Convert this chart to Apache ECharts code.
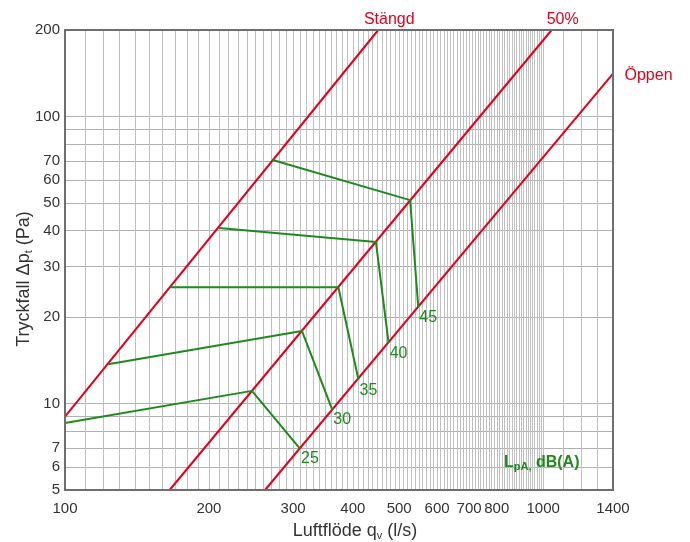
<!DOCTYPE html>
<html><head><meta charset="utf-8">
<script src="https://cdn.jsdelivr.net/npm/echarts@6/dist/echarts.min.js"></script>
<style>html,body{margin:0;padding:0;background:#fff}#c{width:690px;height:542px}</style>
</head><body><div id="c"></div>
<script>
// ---- data ----
const xTickLabels = [100, 200, 300, 400, 500, 600, 700, 800, 1000, 1400];
const yTickLabels = [5, 6, 7, 10, 20, 30, 40, 50, 60, 70, 100, 200];
const yGridValues = [6, 7, 8, 9, 10, 20, 30, 40, 50, 60, 70, 80, 90, 100];
const xGridValues = [];
for (let v = 110; v <= 1000; v += 10) xGridValues.push(v);
xGridValues.push(1100, 1200, 1300);

const lineStangd = [[100, 9.0], [452, 200]];
const line50 = [[165.5, 5], [1042, 200]];
const lineOppen = [[262, 5], [1400, 141]];
const redNames = ['Stängd', '50%', 'Öppen'];

const curve25 = [[100, 8.56], [246, 11.07], [310, 6.97]];
const curve30 = [[123, 13.7], [313, 17.9], [362, 9.54]];
const curve35 = [[166, 25.4], [373, 25.4], [411, 12.1]];
const curve40 = [[210, 40.9], [447, 36.5], [475, 16.3]];
const curve45 = [[272, 70.5], [527, 51.1], [548, 21.7]];
const curveNames = ['25', '30', '35', '40', '45'];

// ---- styles ----
const RED = '#e3001b';
const GREEN = '#1e8a1e';
const TXT = '#333333';
const FONT = 'Liberation Sans, Arial, sans-serif';

function redSeries(data, name, labelCfg) {
  return {
    type: 'line', name: name, silent: true,
    symbol: 'circle', symbolSize: 1, showSymbol: true,
    itemStyle: {color: 'rgba(0,0,0,0)'},
    lineStyle: {color: RED, width: 2},
    z: 3,
    data: data.map((d, i) => i === data.length - 1
      ? {value: d, label: Object.assign({show: true, formatter: name, color: RED, fontSize: 16, fontFamily: FONT}, labelCfg)}
      : {value: d})
  };
}
function greenSeries(data, name) {
  return {
    type: 'line', name: name, silent: true,
    symbol: 'circle', symbolSize: 1, showSymbol: true,
    itemStyle: {color: 'rgba(0,0,0,0)'},
    lineStyle: {color: GREEN, width: 2},
    z: 4,
    data: data.map((d, i) => i === data.length - 1
      ? {value: d, label: {show: true, formatter: name, position: 'bottom', distance: 2, offset: [10, 0], color: GREEN, fontSize: 16, fontFamily: FONT}}
      : {value: d})
  };
}

const chart = echarts.init(document.getElementById('c'), null, {renderer: 'canvas'});
chart.setOption({
  animation: false,
  backgroundColor: '#fff',
  grid: {left: 65, right: 77, top: 30, bottom: 52, containLabel: false, outerBoundsMode: 'none',
    show: true, borderColor: '#6e6e6e', borderWidth: 2, backgroundColor: 'rgba(0,0,0,0)', z: 5},
  xAxis: {
    type: 'log', logBase: 10, min: 100, max: 1400,
    name: '{a|Luftflöde q}{s|v}{a| (l/s)}',
    nameLocation: 'middle', nameGap: 30,
    nameTextStyle: {padding: [0, 0, 0, 32], rich: {
      a: {fontSize: 18, color: TXT, fontFamily: FONT, lineHeight: 22},
      s: {fontSize: 11, color: TXT, fontFamily: FONT, padding: [10, 0, 0, 0], lineHeight: 22}
    }},
    axisLine: {show: true, lineStyle: {color: '#6e6e6e', width: 2}},
    axisTick: {show: false, customValues: xGridValues},
    axisLabel: {customValues: xTickLabels, formatter: v => String(Math.round(v)), color: TXT, fontSize: 15, fontFamily: FONT, margin: 11},
    splitLine: {show: true, lineStyle: {color: '#c0c0c0', width: 1}},
    minorSplitLine: {show: false}
  },
  yAxis: {
    type: 'log', logBase: 10, min: 5, max: 200,
    name: '{a|Tryckfall }{d|Δp}{s|t}{a| (Pa)}',
    nameLocation: 'middle', nameGap: 30, nameRotate: 90, nameMoveOverlap: false,
    nameTextStyle: {padding: [0, 38, 0, 0], rich: {
      a: {fontSize: 18, color: TXT, fontFamily: FONT, lineHeight: 22},
      d: {fontSize: 18, color: TXT, fontFamily: FONT, lineHeight: 22},
      s: {fontSize: 11, color: TXT, fontFamily: FONT, padding: [10, 0, 0, 0], lineHeight: 22}
    }},
    axisLine: {show: true, lineStyle: {color: '#6e6e6e', width: 2}},
    axisTick: {show: false, customValues: yGridValues},
    axisLabel: {customValues: yTickLabels, formatter: v => String(Math.round(v)), color: TXT, fontSize: 15, fontFamily: FONT, margin: 5},
    splitLine: {show: true, lineStyle: {color: '#b0b0b0', width: 1}}
  },
  graphic: [{
    type: 'text', left: 504, top: 454, z: 10,
    style: {
      text: '{l|L}{s|pA,}{l| dB(A)}',
      rich: {
        l: {fontSize: 16, fontWeight: 'bold', fill: GREEN, fontFamily: FONT, lineHeight: 19},
        s: {fontSize: 11, fontWeight: 'bold', fill: GREEN, fontFamily: FONT, padding: [7, 0, 0, 0], lineHeight: 19}
      }
    }
  }],
  series: [
    redSeries(lineStangd, redNames[0], {position: 'top', distance: 2, offset: [11, 0]}),
    redSeries(line50, redNames[1], {position: 'top', distance: 2, offset: [11, 0]}),
    redSeries(lineOppen, redNames[2], {position: 'right', distance: 11, offset: [0, 2]}),
    greenSeries(curve25, curveNames[0]),
    greenSeries(curve30, curveNames[1]),
    greenSeries(curve35, curveNames[2]),
    greenSeries(curve40, curveNames[3]),
    greenSeries(curve45, curveNames[4])
  ]
});
</script>
</body></html>
